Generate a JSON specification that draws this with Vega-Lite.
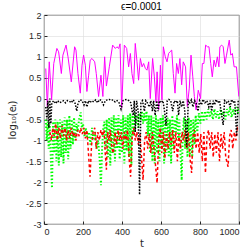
{
"$schema":"https://vega.github.io/schema/vega-lite/v6.json",
"width":195,"height":209,
"autosize":{"type":"none"},
"padding":{"left":44,"top":15,"right":12,"bottom":27},
"background":"white",
"title":{"text":"ϵ=0.0001","font":"Liberation Sans","fontSize":10,"fontWeight":"normal","color":"#000000","offset":3,"frame":"group","baseline":"bottom","dy":14},
"config":{
 "view":{"stroke":"#262626","strokeWidth":0.8},
 "axis":{"labelFont":"Liberation Sans","labelFontSize":9,"labelColor":"#262626","tickColor":"#262626","tickSize":-3,"domain":false,"gridColor":"#dcdcdc","gridWidth":0.6,"titleFont":"DejaVu Sans","titleFontWeight":"normal","titleFontSize":10,"titleColor":"#262626","labelPadding":6}
},
"datasets":{
"m":[{"t":9,"v":0.72},{"t":17,"v":-0.19},{"t":27,"v":0.88},{"t":39,"v":-0.03},{"t":50,"v":0.84},{"t":66,"v":1.2},{"t":75,"v":1.12},{"t":89,"v":0.6},{"t":97,"v":1.04},{"t":113,"v":1.28},{"t":123,"v":1.0},{"t":140,"v":0.4},{"t":157,"v":1.24},{"t":164,"v":1.16},{"t":174,"v":0.6},{"t":186,"v":0.13},{"t":195,"v":0.8},{"t":203,"v":1.04},{"t":212,"v":0.8},{"t":220,"v":0.17},{"t":229,"v":0.56},{"t":237,"v":0.92},{"t":246,"v":0.96},{"t":260,"v":0.88},{"t":268,"v":0.6},{"t":280,"v":0.05},{"t":292,"v":0.56},{"t":302,"v":0.05},{"t":311,"v":1.0},{"t":320,"v":0.3},{"t":335,"v":0.76},{"t":352,"v":1.28},{"t":366,"v":1.2},{"t":374,"v":1.24},{"t":383,"v":1.2},{"t":390,"v":1.31},{"t":398,"v":-0.23},{"t":412,"v":1.28},{"t":424,"v":1.2},{"t":434,"v":0.76},{"t":443,"v":1.08},{"t":451,"v":0.6},{"t":460,"v":0.36},{"t":468,"v":1.32},{"t":477,"v":0.88},{"t":485,"v":0.44},{"t":494,"v":0.96},{"t":503,"v":0.76},{"t":511,"v":0.84},{"t":520,"v":0.72},{"t":528,"v":0.68},{"t":537,"v":0.88},{"t":545,"v":0.0},{"t":557,"v":0.96},{"t":566,"v":0.52},{"t":574,"v":-0.08},{"t":580,"v":0.64},{"t":588,"v":-0.27},{"t":597,"v":0.8},{"t":605,"v":-0.03},{"t":612,"v":1.24},{"t":622,"v":1.0},{"t":631,"v":0.88},{"t":639,"v":1.08},{"t":646,"v":1.12},{"t":655,"v":1.16},{"t":663,"v":0.6},{"t":672,"v":0.13},{"t":680,"v":0.84},{"t":689,"v":0.6},{"t":697,"v":0.96},{"t":706,"v":0.33},{"t":714,"v":0.88},{"t":726,"v":0.76},{"t":735,"v":-0.19},{"t":745,"v":0.25},{"t":754,"v":1.04},{"t":763,"v":0.52},{"t":771,"v":0.05},{"t":780,"v":-0.27},{"t":791,"v":0.2},{"t":803,"v":0.0},{"t":812,"v":0.84},{"t":820,"v":0.84},{"t":829,"v":1.28},{"t":838,"v":1.24},{"t":846,"v":1.24},{"t":855,"v":0.84},{"t":863,"v":0.52},{"t":872,"v":0.92},{"t":880,"v":0.76},{"t":889,"v":1.0},{"t":897,"v":0.76},{"t":902,"v":1.24},{"t":911,"v":1.28},{"t":919,"v":1.24},{"t":928,"v":0.84},{"t":936,"v":1.04},{"t":950,"v":1.4},{"t":958,"v":1.04},{"t":966,"v":1.08},{"t":975,"v":0.76},{"t":987,"v":0.76},{"t":999,"v":0.05}],
"k":[{"t":9,"v":-0.2},{"t":15,"v":-0.5},{"t":20,"v":-0.05},{"t":25,"v":-0.7},{"t":30,"v":0.0},{"t":35,"v":-0.6},{"t":40,"v":-0.1},{"t":50,"v":-0.05},{"t":60,"v":-0.12},{"t":70,"v":-0.05},{"t":80,"v":-0.1},{"t":90,"v":-0.08},{"t":100,"v":-0.05},{"t":110,"v":-0.1},{"t":120,"v":-0.05},{"t":130,"v":-0.06},{"t":140,"v":-0.1},{"t":150,"v":-0.03},{"t":160,"v":-0.12},{"t":168,"v":-0.3},{"t":175,"v":-0.1},{"t":185,"v":-0.03},{"t":195,"v":-0.05},{"t":205,"v":-0.15},{"t":212,"v":-0.05},{"t":220,"v":-0.2},{"t":228,"v":-0.05},{"t":235,"v":-0.1},{"t":245,"v":-0.05},{"t":255,"v":-0.08},{"t":265,"v":-0.03},{"t":275,"v":-0.1},{"t":285,"v":-0.02},{"t":295,"v":-0.05},{"t":305,"v":-0.15},{"t":315,"v":-0.05},{"t":325,"v":-0.03},{"t":335,"v":-0.02},{"t":345,"v":-0.04},{"t":355,"v":-0.03},{"t":365,"v":-0.08},{"t":375,"v":-0.05},{"t":385,"v":-0.1},{"t":395,"v":-0.25},{"t":405,"v":-0.05},{"t":415,"v":-0.03},{"t":425,"v":-0.02},{"t":435,"v":-0.05},{"t":445,"v":-0.1},{"t":452,"v":-0.3},{"t":458,"v":-0.4},{"t":463,"v":-0.05},{"t":468,"v":-0.8},{"t":475,"v":-0.05},{"t":483,"v":-0.3},{"t":490,"v":-2.3},{"t":497,"v":-0.1},{"t":505,"v":-0.05},{"t":515,"v":-0.3},{"t":522,"v":-0.05},{"t":530,"v":-0.1},{"t":540,"v":-0.2},{"t":548,"v":-0.05},{"t":556,"v":-0.3},{"t":562,"v":-0.05},{"t":570,"v":-0.4},{"t":578,"v":-0.05},{"t":585,"v":-0.3},{"t":592,"v":-0.05},{"t":600,"v":-0.1},{"t":610,"v":-0.05},{"t":618,"v":-0.3},{"t":626,"v":-0.65},{"t":632,"v":-0.05},{"t":640,"v":-0.02},{"t":650,"v":-0.05},{"t":660,"v":-0.3},{"t":668,"v":-0.05},{"t":676,"v":-0.1},{"t":684,"v":-0.05},{"t":690,"v":-0.4},{"t":698,"v":-0.05},{"t":706,"v":-0.2},{"t":714,"v":-0.05},{"t":722,"v":-0.3},{"t":732,"v":-1.15},{"t":740,"v":-0.05},{"t":748,"v":-0.1},{"t":756,"v":-0.03},{"t":764,"v":-0.2},{"t":772,"v":-0.05},{"t":780,"v":-0.1},{"t":790,"v":-0.3},{"t":798,"v":-0.05},{"t":808,"v":-0.15},{"t":815,"v":-0.02},{"t":825,"v":-0.1},{"t":835,"v":-0.05},{"t":845,"v":-0.2},{"t":852,"v":-0.05},{"t":860,"v":-0.3},{"t":868,"v":-0.05},{"t":875,"v":-0.15},{"t":882,"v":-0.02},{"t":890,"v":-0.1},{"t":900,"v":-0.05},{"t":908,"v":-0.3},{"t":919,"v":-0.63},{"t":926,"v":-0.05},{"t":935,"v":-0.1},{"t":945,"v":-0.05},{"t":955,"v":-0.2},{"t":962,"v":-0.02},{"t":970,"v":-0.1},{"t":978,"v":-0.05},{"t":988,"v":-0.9},{"t":996,"v":-0.05}],
"g":[{"t":9,"v":-0.5},{"t":14,"v":-1.0},{"t":19,"v":-0.55},{"t":24,"v":-1.2},{"t":29,"v":-0.6},{"t":35,"v":-1.4},{"t":41,"v":-2.14},{"t":47,"v":-0.55},{"t":53,"v":-1.3},{"t":58,"v":-0.5},{"t":64,"v":-1.5},{"t":70,"v":-0.55},{"t":76,"v":-1.6},{"t":82,"v":-0.5},{"t":88,"v":-1.4},{"t":94,"v":-0.55},{"t":100,"v":-1.55},{"t":106,"v":-0.45},{"t":112,"v":-1.3},{"t":118,"v":-0.5},{"t":124,"v":-1.45},{"t":130,"v":-0.4},{"t":136,"v":-1.2},{"t":142,"v":-0.5},{"t":148,"v":-1.1},{"t":154,"v":-0.45},{"t":160,"v":-1.0},{"t":166,"v":-0.6},{"t":172,"v":-0.8},{"t":180,"v":-0.5},{"t":188,"v":-0.33},{"t":194,"v":-0.7},{"t":200,"v":-0.6},{"t":208,"v":-0.9},{"t":214,"v":-0.7},{"t":222,"v":-0.95},{"t":230,"v":-0.8},{"t":238,"v":-1.1},{"t":246,"v":-0.7},{"t":254,"v":-1.0},{"t":262,"v":-0.8},{"t":270,"v":-1.2},{"t":278,"v":-1.0},{"t":286,"v":-1.5},{"t":292,"v":-2.07},{"t":298,"v":-1.2},{"t":304,"v":-0.7},{"t":310,"v":-0.55},{"t":316,"v":-1.2},{"t":322,"v":-0.5},{"t":328,"v":-1.4},{"t":334,"v":-0.45},{"t":340,"v":-1.6},{"t":346,"v":-0.45},{"t":352,"v":-1.3},{"t":358,"v":-0.4},{"t":364,"v":-1.5},{"t":370,"v":-0.45},{"t":376,"v":-1.2},{"t":382,"v":-0.4},{"t":388,"v":-1.45},{"t":394,"v":-0.5},{"t":400,"v":-1.3},{"t":406,"v":-0.4},{"t":412,"v":-1.55},{"t":418,"v":-0.45},{"t":424,"v":-1.25},{"t":430,"v":-0.4},{"t":436,"v":-1.4},{"t":442,"v":-0.35},{"t":448,"v":-1.6},{"t":454,"v":-0.4},{"t":460,"v":-0.9},{"t":466,"v":-0.35},{"t":472,"v":-0.6},{"t":478,"v":-0.4},{"t":484,"v":-0.7},{"t":490,"v":-0.35},{"t":496,"v":-0.5},{"t":502,"v":-0.3},{"t":508,"v":-0.6},{"t":514,"v":-0.35},{"t":520,"v":-0.55},{"t":526,"v":-0.3},{"t":532,"v":-0.9},{"t":538,"v":-0.4},{"t":544,"v":-1.3},{"t":550,"v":-0.4},{"t":556,"v":-1.5},{"t":562,"v":-0.45},{"t":568,"v":-1.55},{"t":574,"v":-0.4},{"t":580,"v":-1.3},{"t":586,"v":-0.5},{"t":592,"v":-1.5},{"t":598,"v":-0.45},{"t":604,"v":-1.2},{"t":610,"v":-0.4},{"t":616,"v":-1.55},{"t":622,"v":-0.5},{"t":628,"v":-1.3},{"t":634,"v":-0.45},{"t":640,"v":-1.4},{"t":646,"v":-0.5},{"t":652,"v":-1.55},{"t":658,"v":-0.4},{"t":664,"v":-1.2},{"t":670,"v":-0.5},{"t":676,"v":-0.8},{"t":682,"v":-0.4},{"t":688,"v":-1.0},{"t":694,"v":-0.5},{"t":700,"v":-1.3},{"t":706,"v":-1.95},{"t":712,"v":-0.8},{"t":718,"v":-0.45},{"t":724,"v":-1.2},{"t":730,"v":-0.5},{"t":736,"v":-1.4},{"t":742,"v":-0.45},{"t":748,"v":-1.35},{"t":754,"v":-0.5},{"t":760,"v":-1.4},{"t":766,"v":-0.5},{"t":772,"v":-1.1},{"t":778,"v":-0.4},{"t":786,"v":-0.8},{"t":794,"v":-0.35},{"t":802,"v":-0.6},{"t":810,"v":-0.3},{"t":818,"v":-0.55},{"t":826,"v":-0.3},{"t":834,"v":-0.5},{"t":842,"v":-0.25},{"t":850,"v":-0.45},{"t":858,"v":-0.3},{"t":866,"v":-0.5},{"t":874,"v":-0.25},{"t":882,"v":-0.45},{"t":890,"v":-0.3},{"t":898,"v":-0.5},{"t":906,"v":-0.25},{"t":914,"v":-0.4},{"t":922,"v":-0.3},{"t":930,"v":-0.5},{"t":938,"v":-0.25},{"t":946,"v":-0.4},{"t":954,"v":-0.2},{"t":962,"v":-0.45},{"t":970,"v":-0.25},{"t":978,"v":-0.4},{"t":986,"v":-0.2},{"t":994,"v":-0.35},{"t":1000,"v":-0.2}],
"r":[{"t":30,"v":-0.8},{"t":38,"v":-1.0},{"t":45,"v":-0.7},{"t":52,"v":-0.9},{"t":60,"v":-0.6},{"t":68,"v":-1.0},{"t":76,"v":-0.7},{"t":84,"v":-0.95},{"t":92,"v":-0.65},{"t":100,"v":-0.9},{"t":108,"v":-0.7},{"t":116,"v":-1.0},{"t":124,"v":-0.75},{"t":132,"v":-0.95},{"t":140,"v":-0.7},{"t":148,"v":-0.9},{"t":156,"v":-0.8},{"t":164,"v":-1.0},{"t":172,"v":-0.75},{"t":180,"v":-0.9},{"t":188,"v":-0.7},{"t":196,"v":-0.85},{"t":204,"v":-0.7},{"t":212,"v":-0.95},{"t":220,"v":-0.75},{"t":228,"v":-1.3},{"t":236,"v":-1.87},{"t":244,"v":-1.1},{"t":252,"v":-0.8},{"t":260,"v":-0.7},{"t":268,"v":-1.2},{"t":276,"v":-0.8},{"t":284,"v":-1.0},{"t":292,"v":-0.75},{"t":300,"v":-0.9},{"t":308,"v":-0.75},{"t":314,"v":-1.3},{"t":320,"v":-1.7},{"t":326,"v":-0.8},{"t":334,"v":-1.0},{"t":340,"v":-0.75},{"t":348,"v":-1.2},{"t":356,"v":-1.31},{"t":364,"v":-0.8},{"t":372,"v":-1.1},{"t":380,"v":-0.75},{"t":388,"v":-1.0},{"t":396,"v":-0.8},{"t":404,"v":-1.2},{"t":412,"v":-0.8},{"t":420,"v":-1.0},{"t":428,"v":-0.75},{"t":436,"v":-1.4},{"t":444,"v":-1.87},{"t":452,"v":-0.9},{"t":460,"v":-0.7},{"t":468,"v":-1.0},{"t":476,"v":-0.8},{"t":484,"v":-1.1},{"t":492,"v":-0.85},{"t":500,"v":-1.4},{"t":508,"v":-1.95},{"t":516,"v":-1.0},{"t":524,"v":-0.8},{"t":532,"v":-1.2},{"t":540,"v":-0.85},{"t":548,"v":-1.3},{"t":556,"v":-0.8},{"t":564,"v":-1.2},{"t":572,"v":-1.6},{"t":580,"v":-2.02},{"t":588,"v":-1.0},{"t":596,"v":-0.7},{"t":604,"v":-1.3},{"t":612,"v":-0.8},{"t":620,"v":-1.43},{"t":628,"v":-0.85},{"t":636,"v":-1.2},{"t":644,"v":-0.8},{"t":652,"v":-1.1},{"t":660,"v":-0.75},{"t":668,"v":-1.3},{"t":676,"v":-0.8},{"t":684,"v":-1.5},{"t":692,"v":-0.85},{"t":700,"v":-1.2},{"t":708,"v":-0.8},{"t":716,"v":-1.0},{"t":724,"v":-0.75},{"t":732,"v":-1.2},{"t":740,"v":-0.8},{"t":748,"v":-1.4},{"t":757,"v":-1.78},{"t":764,"v":-0.9},{"t":772,"v":-0.75},{"t":780,"v":-1.2},{"t":788,"v":-0.8},{"t":796,"v":-1.3},{"t":804,"v":-0.85},{"t":812,"v":-1.5},{"t":820,"v":-0.8},{"t":828,"v":-1.78},{"t":836,"v":-0.9},{"t":844,"v":-0.75},{"t":852,"v":-1.2},{"t":860,"v":-0.8},{"t":868,"v":-1.4},{"t":876,"v":-0.85},{"t":884,"v":-1.3},{"t":892,"v":-0.8},{"t":900,"v":-1.5},{"t":908,"v":-0.85},{"t":916,"v":-1.2},{"t":924,"v":-0.8},{"t":932,"v":-1.4},{"t":944,"v":-1.63},{"t":952,"v":-0.9},{"t":960,"v":-0.75},{"t":968,"v":-1.2},{"t":976,"v":-0.8},{"t":984,"v":-1.0},{"t":992,"v":-0.7},{"t":1000,"v":-0.75}]
},
"encoding":{
 "x":{"field":"t","type":"quantitative","scale":{"domain":[0,1000],"nice":false},"axis":{"title":"t","values":[0,200,400,600,800,1000],"labelExpr":"'' + datum.value","titlePadding":2}},
 "y":{"field":"v","type":"quantitative","scale":{"domain":[-3,2],"nice":false},"axis":{"title":"log₁₀(eᵢ)","values":[-3,-2.5,-2,-1.5,-1,-0.5,0,0.5,1,1.5,2],"labelExpr":"'' + datum.value","titlePadding":8}}
},
"layer":[
 {"data":{"name":"m"},"mark":{"type":"line","color":"#ff00ff","strokeWidth":1,"clip":true}},
 {"data":{"name":"g"},"mark":{"type":"line","color":"#00ff00","strokeWidth":2,"strokeDash":[1.5,2],"clip":true}},
 {"data":{"name":"r"},"mark":{"type":"line","color":"#ff0000","strokeWidth":1.5,"strokeDash":[3,2.5],"clip":true}},
 {"data":{"name":"k"},"mark":{"type":"line","color":"#000000","strokeWidth":1.5,"strokeDash":[1.5,1.5],"clip":true}}
]
}
